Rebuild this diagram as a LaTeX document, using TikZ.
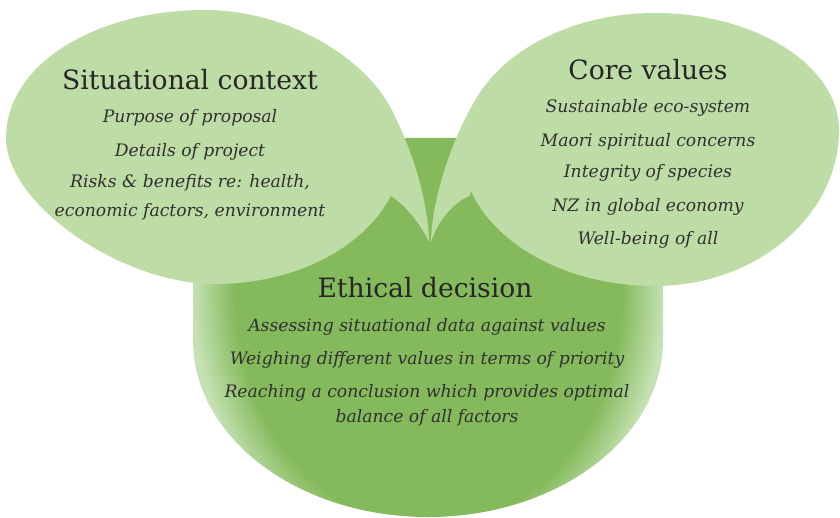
\documentclass[tikz,border=0pt]{standalone}
\usepackage{fontspec}
\setmainfont{DejaVu Serif}

\definecolor{leafdark}{RGB}{132,186,92}
\definecolor{leaflight}{RGB}{190,220,166}
\definecolor{leafrim}{RGB}{198,226,180}
\definecolor{inkgray}{RGB}{48,48,48}

% dark centre, pale rim
\pgfdeclareradialshading{rimshade}{\pgfpoint{0bp}{0bp}}{%
  color(0bp)=(leafdark); color(20.5bp)=(leafdark);
  color(25bp)=(leafrim); color(50bp)=(leafrim)}

\tikzset{
  heading/.style={font=\fontsize{13.3}{15}\selectfont, text=black!85, inner sep=0pt},
  item/.style={font=\fontsize{8.6}{10}\selectfont\itshape, text=inkgray, inner sep=0pt},
}

\begin{document}
\begin{tikzpicture}[x=0.5pt, y=-0.5pt]
  \useasboundingbox (0,0) rectangle (840,518);

  % the decision shape: flat top, straight sides, round bottom
  \begin{scope}
    \clip (193,138) -- (193,340)
      arc[start angle=180, end angle=0, x radius=235, y radius=177]
      -- (663,138) -- cycle;
    \shade[shading=rimshade] (192,0) rectangle (664,580);
  \end{scope}

  % left bubble body (left, top, right, bottom)
  \fill[leaflight] (6,138) .. controls (6,64) and (96,10) .. (205,10)
    .. controls (304,10) and (402,80) .. (402,150)
    .. controls (402,224) and (318,284) .. (215,284)
    .. controls (121,284) and (6,204) .. (6,138) -- cycle;
  % left bubble tail
  \fill[leaflight] (378,89) .. controls (402,120) and (428,190) .. (429,242)
    .. controls (420,222) and (400,198) .. (380,190) -- cycle;

  % right bubble body (top, right, bottom, left)
  \fill[leaflight] (655,13) .. controls (756,13) and (839,66) .. (839,130)
    .. controls (839,216) and (756,286) .. (655,286)
    .. controls (549,286) and (462,225) .. (462,150)
    .. controls (462,75) and (549,13) .. (655,13) -- cycle;
  % right bubble tail
  \fill[leaflight] (484,87) .. controls (460,119) and (432,190) .. (431,242)
    .. controls (436,225) and (452,202) .. (470,196) -- cycle;

  % situational context
  \node[heading] (sc-title) at (190,80) {Situational context};
  \foreach \txt/\y [count=\i] in {Purpose of proposal/118, Details of project/152,
      {Risks \& benefits re: health,}/183, {economic factors, environment}/212} {
    \node[item] (sc-\i) at (190,\y) {\txt};
  }

  % core values
  \node[heading] (cv-title) at (648,70) {Core values};
  \foreach \txt/\y [count=\i] in {Sustainable eco-system/108, Maori spiritual concerns/142,
      Integrity of species/173, NZ in global economy/207, Well-being of all/240} {
    \node[item] (cv-\i) at (648,\y) {\txt};
  }

  % ethical decision
  \node[heading] (ed-title) at (425,288) {Ethical decision};
  \foreach \txt/\y [count=\i] in {Assessing situational data against values/327,
      Weighing different values in terms of priority/360,
      Reaching a conclusion which provides optimal/393, balance of all factors/418} {
    \node[item] (ed-\i) at (427,\y) {\txt};
  }
\end{tikzpicture}
\end{document}
